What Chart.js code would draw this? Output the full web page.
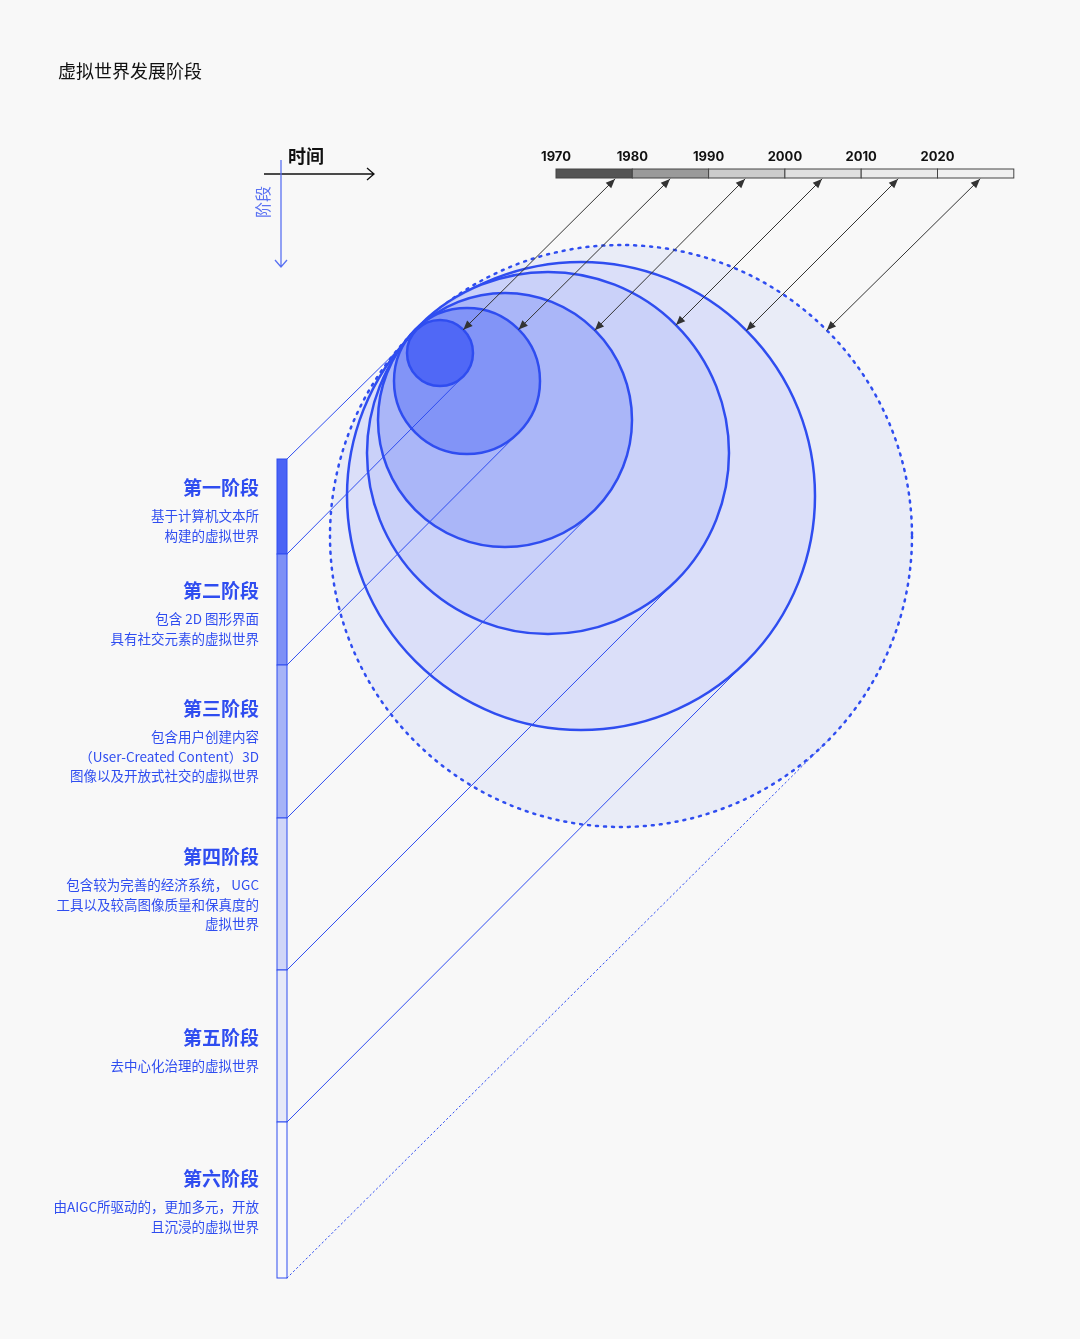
<!DOCTYPE html>
<html><head><meta charset="utf-8">
<script src="https://cdn.jsdelivr.net/npm/chart.js@4"></script>
<style>html,body{margin:0;padding:0;background:#f8f8f8}#w{width:1080px;height:1339px}</style>
</head><body><div id="w"><canvas id="c"></canvas></div>
<script>
const title = "虚拟世界发展阶段";
const years = ["1970","1980","1990","2000","2010","2020"];
const yearFills = ["#555555","#9a9a9a","#cccccc","#e0e0e0","#ebebeb","#f0f0f0"];
const stageNames = ["第一阶段","第二阶段","第三阶段","第四阶段","第五阶段","第六阶段"];
const stageDescs = [
 ["基于计算机文本所","构建的虚拟世界"],
 ["包含 2D 图形界面","具有社交元素的虚拟世界"],
 ["包含用户创建内容","（User-Created Content）3D","图像以及开放式社交的虚拟世界"],
 ["包含较为完善的经济系统， UGC","工具以及较高图像质量和保真度的","虚拟世界"],
 ["去中心化治理的虚拟世界"],
 ["由AIGC所驱动的，更加多元，开放","且沉浸的虚拟世界"]
];
const circleX = [440,467,505,548,581,621];
const circleY = [353,381,420,453,496,536];
const circleR = [33,73,127,181,234,291];
const stageFills = ["#4a63f5","#7d90f6","#a6b3f7","#c8cff8","#d9def8","#e9ecf7"];
const barEdges = [459,554,665,818,970,1122,1278];
const barFills = ["#4a63f5","#7d90f6","#a6b3f7","#d0d6f8","#e6e9f8","#f8f8fb"];

const BLUE="#2f4df0";
const plug={id:'diagram',afterDraw(ch){
 const c=ch.ctx,sx=ch.scales.x,sy=ch.scales.y;
 const X=v=>sx.getPixelForValue(v),Y=v=>sy.getPixelForValue(v),R=v=>sx.getPixelForValue(v)-sx.getPixelForValue(0);
 c.save();
 c.fillStyle="#111";c.font="18px 'Noto Sans CJK SC'";c.textBaseline="middle";c.fillText(title,X(58),Y(71));
 // axes icon
 c.strokeStyle="#111";c.lineWidth=1.3;c.beginPath();c.moveTo(X(264),Y(174));c.lineTo(X(374),Y(174));c.moveTo(X(367),Y(168));c.lineTo(X(374),Y(174));c.lineTo(X(367),Y(180));c.stroke();
 c.font="bold 18px 'Noto Sans CJK SC'";c.fillText("时间",X(288),Y(156));
 c.strokeStyle="#5a72f2";c.beginPath();c.moveTo(X(281),Y(160));c.lineTo(X(281),Y(267));c.moveTo(X(275),Y(260));c.lineTo(X(281),Y(267));c.lineTo(X(287),Y(260));c.stroke();
 c.save();c.translate(X(263),Y(202));c.rotate(-Math.PI/2);c.fillStyle="#5a72f2";c.font="16px 'Noto Sans CJK SC'";c.textAlign="center";c.fillText("阶段",0,0);c.restore();
 // timeline
 const t0=556,tw=76.3;
 for(let i=0;i<years.length;i++){c.fillStyle=yearFills[i];c.fillRect(X(t0+i*tw),Y(169),R(tw),R(9));c.strokeStyle="#444";c.lineWidth=1;c.strokeRect(X(t0+i*tw),Y(169),R(tw),R(9));
  c.fillStyle="#111";c.font="bold 13px Inter";c.textAlign="center";c.fillText(years[i],X(t0+i*tw),Y(157));}
 // circles (large first)
 for(let i=5;i>=0;i--){c.beginPath();c.arc(X(circleX[i]),Y(circleY[i]),R(circleR[i]),0,Math.PI*2);c.fillStyle=stageFills[i];c.globalAlpha=i==5?1:0.9;c.fill();c.globalAlpha=1;
  c.strokeStyle=BLUE;c.lineWidth=2.5;if(i==5){c.setLineDash([2,6]);c.lineCap="round";c.lineWidth=2.5;}c.stroke();c.setLineDash([]);}
 // tangent lines
 const k=Math.SQRT1_2;c.strokeStyle=BLUE;c.lineWidth=1;
 c.beginPath();c.moveTo(X(287),Y(barEdges[0]));c.lineTo(X(408),Y(340));c.stroke();
 for(let i=0;i<6;i++){const tx=circleX[i]+circleR[i]*k,ty=circleY[i]+circleR[i]*k;c.beginPath();if(i==5){c.setLineDash([1.5,3]);}c.moveTo(X(287),Y(barEdges[i+1]));c.lineTo(X(tx),Y(ty));c.stroke();c.setLineDash([]);}
 // arrows
 c.strokeStyle="#333";c.fillStyle="#333";
 const tops=[615,670,745,822,898,980];
 function head(x1,y1,x2,y2){const a=Math.atan2(y2-y1,x2-x1),L=10,w=0.4;c.beginPath();c.moveTo(x2,y2);c.lineTo(x2-L*Math.cos(a-w),y2-L*Math.sin(a-w));c.lineTo(x2-L*Math.cos(a+w),y2-L*Math.sin(a+w));c.closePath();c.fill();}
 for(let i=0;i<6;i++){const bx=X(circleX[i]+circleR[i]*k),by=Y(circleY[i]-circleR[i]*k);const tx=X(tops[i]),ty=Y(179);
  c.lineWidth=1;c.beginPath();c.moveTo(bx,by);c.lineTo(tx,ty);c.stroke();head(bx,by,tx,ty);head(tx,ty,bx,by);}
 // bar
 for(let i=0;i<6;i++){c.fillStyle=barFills[i];c.fillRect(X(277),Y(barEdges[i]),R(10),Y(barEdges[i+1])-Y(barEdges[i]));c.strokeStyle=BLUE;c.lineWidth=1;c.strokeRect(X(277),Y(barEdges[i]),R(10),Y(barEdges[i+1])-Y(barEdges[i]));}
 // texts
 const ty0=[488,591,709,857,1038,1179];
 c.textAlign="right";
 for(let i=0;i<6;i++){c.fillStyle=BLUE;c.font="bold 19px 'Noto Sans CJK SC'";c.fillText(stageNames[i],X(259),Y(ty0[i]));
  c.font="13.5px 'Noto Sans CJK SC'";stageDescs[i].forEach((s,j)=>c.fillText(s,X(259),Y(ty0[i]+28+j*19.5)));}
 c.restore();
}};
new Chart(document.getElementById('c'),{type:'scatter',data:{datasets:[{data:circleX.map((x,i)=>({x,y:circleY[i]})),pointRadius:0}]},
 options:{responsive:true,maintainAspectRatio:false,animation:false,layout:{padding:0},
 plugins:{legend:{display:false},tooltip:{enabled:false}},
 scales:{x:{type:'linear',min:0,max:1080,display:false},y:{type:'linear',min:0,max:1339,reverse:true,display:false}}},plugins:[plug]});
</script></body></html>
